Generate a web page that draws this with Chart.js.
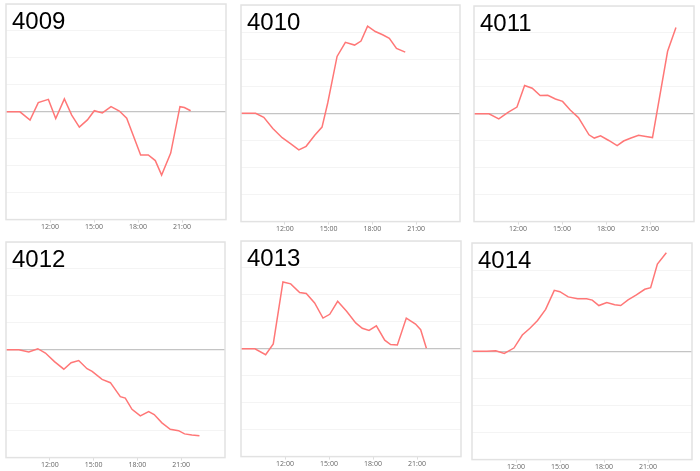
<!DOCTYPE html>
<html>
<head>
<meta charset="utf-8">
<script src="https://cdn.jsdelivr.net/npm/chart.js@4.4.1/dist/chart.umd.min.js"></script>
<style>
  html, body { margin: 0; padding: 0; background: #fff; }
  body { width: 700px; height: 471px; position: relative; overflow: hidden; }
  .panel { position: absolute; }
</style>
</head>
<body>

<script>
// station ids
var stations = ["4009", "4010", "4011", "4012", "4013", "4014"];

// x tick labels (hours)
var tickHours = [12, 15, 18, 21];

// time of each reading (hour of day) and value, one pair per station
var hours4009 = [9.0, 9.95, 10.64, 11.2, 11.89, 12.39, 12.98, 13.48, 14.0, 14.55, 15.02, 15.57, 16.16, 16.73, 17.23, 18.18, 18.7, 19.18, 19.61, 20.23, 20.86, 21.16, 21.59];
var vals4009  = [0, 0, -0.31, 0.34, 0.46, -0.25, 0.48, -0.12, -0.57, -0.3, 0.04, -0.04, 0.19, 0.03, -0.24, -1.6, -1.6, -1.81, -2.35, -1.53, 0.19, 0.16, 0.04];

var hours4010 = [9.0, 10.0, 10.56, 11.18, 11.82, 12.39, 12.96, 13.46, 14.05, 14.55, 14.94, 15.58, 16.15, 16.78, 17.22, 17.67, 18.2, 18.7, 19.16, 19.65, 20.25];
var vals4010  = [0, 0, -0.15, -0.56, -0.9, -1.12, -1.35, -1.22, -0.81, -0.51, 0.38, 2.1, 2.62, 2.52, 2.67, 3.22, 3.02, 2.9, 2.77, 2.4, 2.26];

var hours4011 = [9.0, 10.02, 10.69, 11.32, 11.93, 12.45, 12.97, 13.51, 14.03, 14.55, 15.04, 15.56, 16.12, 16.84, 17.2, 17.63, 18.19, 18.76, 19.2, 19.66, 20.22, 20.72, 21.17, 22.2, 22.77];
var vals4011  = [0, 0, -0.19, 0.05, 0.25, 1.05, 0.95, 0.68, 0.69, 0.55, 0.46, 0.14, -0.14, -0.78, -0.9, -0.82, -0.99, -1.18, -1.01, -0.91, -0.8, -0.84, -0.88, 2.32, 3.2];

var hours4012 = [9.0, 9.88, 10.56, 11.18, 11.7, 12.32, 12.96, 13.46, 13.98, 14.55, 14.9, 15.58, 16.15, 16.83, 17.17, 17.63, 18.2, 18.77, 19.15, 19.68, 20.25, 20.82, 21.23, 21.73, 22.25];
var vals4012  = [0, 0, -0.08, 0.04, -0.12, -0.44, -0.72, -0.48, -0.4, -0.7, -0.8, -1.1, -1.22, -1.74, -1.79, -2.21, -2.45, -2.29, -2.4, -2.71, -2.95, -3.0, -3.12, -3.16, -3.19];

var hours4013 = [9.0, 9.95, 10.68, 11.2, 11.86, 12.39, 13.0, 13.45, 14.02, 14.59, 15.05, 15.59, 16.2, 16.82, 17.27, 17.73, 18.23, 18.8, 19.2, 19.66, 20.27, 20.9, 21.25, 21.64];
var vals4013  = [0, 0, -0.22, 0.18, 2.48, 2.41, 2.09, 2.05, 1.7, 1.14, 1.28, 1.76, 1.39, 0.96, 0.76, 0.68, 0.85, 0.32, 0.16, 0.14, 1.14, 0.92, 0.71, 0.02];

var hours4014 = [9.0, 10.0, 10.62, 11.2, 11.86, 12.43, 12.95, 13.47, 14.02, 14.61, 14.99, 15.56, 16.2, 16.81, 17.2, 17.65, 18.19, 18.73, 19.14, 19.64, 20.21, 20.78, 21.18, 21.64, 22.25];
var vals4014  = [0, 0, 0.02, -0.08, 0.12, 0.6, 0.85, 1.14, 1.55, 2.25, 2.2, 2.01, 1.94, 1.94, 1.89, 1.69, 1.8, 1.72, 1.69, 1.9, 2.08, 2.29, 2.35, 3.22, 3.64];

var allHours = [hours4009, hours4010, hours4011, hours4012, hours4013, hours4014];
var allVals  = [vals4009, vals4010, vals4011, vals4012, vals4013, vals4014];

// plot area of each panel: left, top, width, height
var boxes = [
    [6, 4, 220, 214], [241, 5, 219, 215], [474, 6, 220, 214],
    [6, 242, 219, 214], [241, 241, 220, 214], [472, 243, 220, 215]
];

var frame = {
    id: 'frame',
    afterDraw: function(chart, args, opts) {
        var a = chart.chartArea;
        var c = chart.ctx;
        c.save();
        c.strokeStyle = '#e2e2e2';
        c.lineWidth = 1.5;
        c.strokeRect(a.left, a.top, a.right - a.left, a.bottom - a.top);
        c.fillStyle = '#000';
        c.font = '24px "Liberation Sans", Arial, sans-serif';
        c.textBaseline = 'alphabetic';
        c.fillText(opts.text, a.left + 6, a.top + 25);
        c.restore();
    }
};

for (var i = 0; i < stations.length; i++) {
    var b = boxes[i];
    var div = document.createElement('div');
    div.className = 'panel';
    div.style.left = (b[0] - 1) + 'px';
    div.style.top = (b[1] - 1) + 'px';
    div.style.width = (b[2] + 2) + 'px';
    div.style.height = (b[3] + 14) + 'px';
    var cv = document.createElement('canvas');
    div.appendChild(cv);
    document.body.appendChild(div);

    var pts = [];
    for (var k = 0; k < allHours[i].length; k++) {
        pts.push({x: allHours[i][k], y: allVals[i][k]});
    }

    new Chart(cv.getContext('2d'), {
        type: 'line',
        data: {
            datasets: [{
                label: stations[i],
                data: pts,
                borderColor: '#ff7777',
                borderWidth: 1.5,
                pointRadius: 0,
                tension: 0,
                fill: false
            }]
        },
        options: {
            responsive: true,
            maintainAspectRatio: false,
            animation: false,
            layout: { padding: { left: 1, top: 1, right: 1, bottom: 0 } },
            plugins: {
                legend: { display: false },
                tooltip: { enabled: false },
                frame: { text: stations[i] }
            },
            scales: {
                x: {
                    type: 'linear',
                    min: 9,
                    max: 24,
                    afterBuildTicks: function(axis) {
                        axis.ticks = tickHours.map(function(h) { return {value: h}; });
                    },
                    ticks: {
                        padding: 0,
                        maxRotation: 0,
                        color: '#666',
                        font: { size: 7, family: '"Open Sans", sans-serif' },
                        callback: function(v) { return v + ':00'; }
                    },
                    grid: { drawOnChartArea: false, drawTicks: true, tickLength: 3, color: '#dddddd' },
                    border: { display: false }
                },
                y: {
                    min: -4,
                    max: 4,
                    ticks: { display: false, stepSize: 1 },
                    grid: {
                        drawTicks: false,
                        color: function(ctx) {
                            return ctx.tick && ctx.tick.value === 0 ? '#c4c4c4' : '#f4f4f4';
                        },
                        lineWidth: function(ctx) {
                            return ctx.tick && ctx.tick.value === 0 ? 1.2 : 1;
                        }
                    },
                    border: { display: false }
                }
            }
        },
        plugins: [frame]
    });
}
</script>
</body>
</html>
